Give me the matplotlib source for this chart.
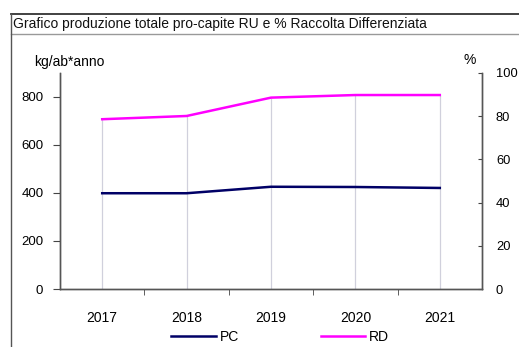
import numpy as np
import matplotlib
matplotlib.use('Agg')
import matplotlib.pyplot as plt
from matplotlib.lines import Line2D

plt.rcParams['font.family'] = ['Liberation Sans', 'DejaVu Sans']

# Dati: produzione pro-capite (kg/ab*anno) e % raccolta differenziata
anni = ['2017', '2018', '2019', '2020', '2021']
pc = [399, 399, 426, 425, 421]
rd = [78.6, 80.1, 88.6, 89.8, 89.8]

W, H = 519, 347
fig = plt.figure(figsize=(W/100, H/100), dpi=100)

# Cornice della cella con titolo
def px(x, y):
    return x / W, 1 - y / H
fig.add_artist(Line2D([px(10.5, 0)[0], 1], [px(0, 14)[1]]*2, color='#333333', lw=1.3))
fig.add_artist(Line2D([px(10.5, 0)[0], 1], [px(0, 34)[1]]*2, color='#999999', lw=1.0))
fig.add_artist(Line2D([px(10.5, 0)[0]]*2, [0, px(0, 14)[1]], color='#555555', lw=1.0))
fig.text(px(13, 0)[0], px(0, 24)[1], 'Grafico produzione totale pro-capite RU e % Raccolta Differenziata',
         fontsize=10, va='center', ha='left', color='#111111')

ax = fig.add_axes([60/W, 1-289/H, (482-60)/W, (289-73)/H])
ax2 = ax.twinx()
x = np.arange(len(anni))

# linee di riferimento verticali sotto la curva RD
ax2.vlines(x, 0, rd, color='#d0d0dc', lw=0.9, zorder=1)
ax.plot(x, pc, color='#000066', lw=1.8, zorder=3, label='PC')
ax2.plot(x, rd, color='#ff00ff', lw=1.8, zorder=3, label='RD')

ax.set_xlim(-0.5, len(anni) - 0.5)
ax.set_ylim(0, 900)
ax2.set_ylim(0, 100)
ax.set_yticks([0, 200, 400, 600, 800])
ax2.set_yticks([0, 20, 40, 60, 80, 100])

ax.set_xticks(x)
ax.set_xticklabels(anni)
ax.set_xticks(np.arange(len(anni) - 1) + 0.5, minor=True)
ax.tick_params(axis='x', which='major', length=0, pad=16, labelsize=10)
ax.tick_params(axis='x', which='minor', length=4, color='#444444', direction='out')
ax.tick_params(axis='y', length=5, color='#444444', labelsize=9.5, pad=7)
ax2.tick_params(axis='y', length=3, color='#444444', labelsize=9.3, pad=10, direction='in')

for a in (ax, ax2):
    a.spines['top'].set_visible(False)
    for s in ('left', 'right', 'bottom'):
        a.spines[s].set_color('#555555')
        a.spines[s].set_linewidth(1.0)
ax.set_zorder(ax2.get_zorder() + 1)
ax.patch.set_visible(False)

fig.text(34/W, 1-62/H, 'kg/ab*anno', fontsize=10, va='center', ha='left')
fig.text(470/W, 1-60/H, '%', fontsize=10, va='center', ha='center')

handles = [Line2D([], [], color='#000066', lw=1.8), Line2D([], [], color='#ff00ff', lw=1.8)]
fig.legend(handles, ['PC', 'RD'], loc='center', bbox_to_anchor=(280/W, 1-337/H), ncol=2,
           frameon=False, fontsize=10, handlelength=3.2, handletextpad=0.25, columnspacing=5.9,
           borderaxespad=0)

fig.savefig('out.png', dpi=100)
